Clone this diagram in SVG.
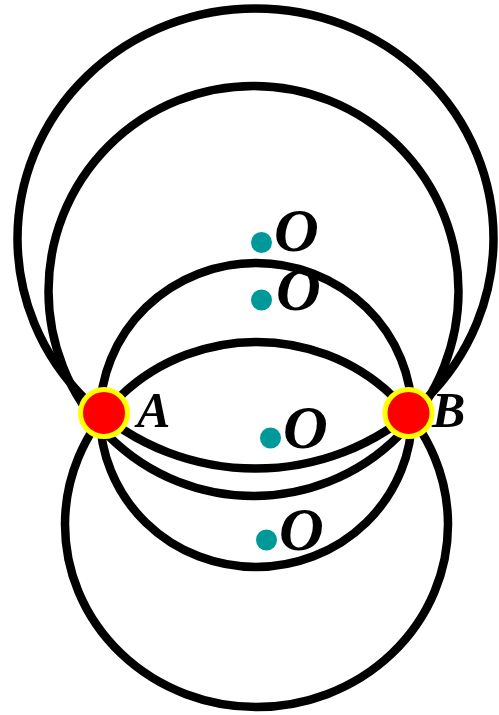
<svg xmlns="http://www.w3.org/2000/svg" width="499" height="715" viewBox="0 0 499 715">
  <style>
    .arc { fill: none; stroke: #000000; stroke-width: 8.5; }
    .pt { fill: #FF0000; stroke: #FFFF00; stroke-width: 5; }
    .ctr { fill: #009999; }
    .lbl { font-family: "Liberation Serif", "Times New Roman", serif; font-weight: bold; font-style: italic; fill: #000000; }
    .o { font-size: 62px; }
    .ab { font-size: 50px; }
  </style>
  <rect width="499" height="715" fill="#FFFFFF"/>
  <g id="circles">
    <ellipse id="circle1" class="arc" cx="255.5" cy="238.5" rx="238" ry="230"/>
    <circle id="circle2" class="arc" cx="253.5" cy="291" r="205"/>
    <ellipse id="circle3" class="arc" cx="256" cy="415" rx="156" ry="152"/>
    <ellipse id="circle4" class="arc" cx="256.5" cy="524.5" rx="191.5" ry="182.5"/>
  </g>
  <g id="centers">
    <g id="center1"><circle class="ctr" cx="261.5" cy="242.5" r="10.5"/><text class="lbl o" x="274" y="251">O</text></g>
    <g id="center2"><circle class="ctr" cx="261.5" cy="300" r="10.5"/><text class="lbl o" x="276" y="310">O</text></g>
    <g id="center3"><circle class="ctr" cx="270.5" cy="438" r="10.5"/><text class="lbl o" x="283" y="448">O</text></g>
    <g id="center4"><circle class="ctr" cx="266.5" cy="540" r="10.5"/><text class="lbl o" x="279" y="550">O</text></g>
  </g>
  <g id="pointA">
    <circle class="pt" cx="104" cy="413" r="23.5"/>
    <text class="lbl ab" x="137" y="427">A</text>
  </g>
  <g id="pointB">
    <circle class="pt" cx="408.5" cy="413" r="23.5"/>
    <text class="lbl ab" x="432" y="427">B</text>
  </g>
</svg>
